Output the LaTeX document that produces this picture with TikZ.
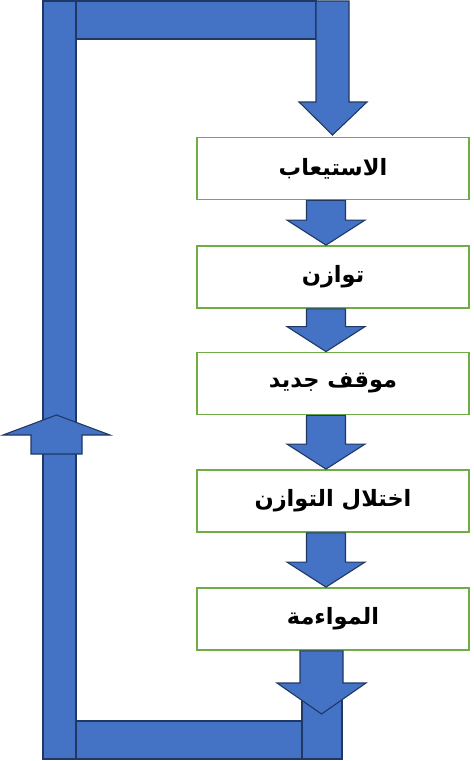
\documentclass[tikz,border=0pt]{standalone}
\usepackage{fontspec}
\newfontfamily\arabicfont[Script=Arabic]{DejaVu Sans}
\TeXXeTstate=1
\usetikzlibrary{calc}
\definecolor{blockblue}{HTML}{4472C4}
\definecolor{blockline}{HTML}{1F3864}
\definecolor{boxgreen}{HTML}{70AD47}
\tikzset{
  flow/.style={fill=blockblue, draw=blockline, line width=1.1pt, line join=miter},
  stage/.style={draw=boxgreen, line width=1.8pt, fill=white, minimum width=272,
    minimum height=62, inner sep=0pt, font=\arabicfont\bfseries\fontsize{22.5}{27}\selectfont}
}
\begin{document}
\begin{tikzpicture}[x=1pt,y=-1pt]
  \useasboundingbox (0,0) rectangle (474,761);

  % feedback loop
  \draw[flow] (43,1) rectangle (76,759);
  \draw[flow] (76,1) rectangle (316,39);
  \draw[flow] (316,1) -- (349,1) -- (349,102) -- (367,102) -- (332.5,135)
    -- (299,102) -- (316,102) -- cycle;
  \draw[flow] (76,721) rectangle (302,759);
  \draw[flow] (302,690) rectangle (342,759);

  % stages
  \node[stage] (assim) at (333,168.5) {\beginR الاستيعاب\endR};
  \node[stage] (equil) at (333,277) {\beginR توازن\endR};
  \node[stage] (newpos) at (333,383.5) {\beginR موقف جديد\endR};
  \node[stage] (diseq) at (333,501) {\beginR اختلال التوازن\endR};
  \node[stage] (accom) at (333,619) {\beginR المواءمة\endR};

  \coordinate (ax) at (326,0);
  \coordinate (loopin) at (321.5,714);

  \foreach \a/\b in {assim/equil,equil/newpos,newpos/diseq,diseq/accom}
  {
    \draw[flow] let \p1=(\a.south -| ax), \p2=(\b.north -| ax) in
      (\x1-19.5pt,\y1) -- (\x1+19.5pt,\y1) -- (\x1+19.5pt,\y2+25pt)
      -- (\x1+39pt,\y2+25pt) -- (\x1,\y2) -- (\x1-39pt,\y2+25pt)
      -- (\x1-19.5pt,\y2+25pt) -- cycle;
  }
  \draw[flow] let \p1=(accom.south -| loopin), \p2=(loopin) in
    (\x1-21.5pt,\y1) -- (\x1+21.5pt,\y1) -- (\x1+21.5pt,\y2+31pt)
    -- (\x1+44.5pt,\y2+31pt) -- (\x2,\y2) -- (\x1-44.5pt,\y2+31pt)
    -- (\x1-21.5pt,\y2+31pt) -- cycle;

  % upward arrow on the return line
  \draw[flow] (31,454) -- (82,454) -- (82,435) -- (110,435) -- (56.5,415)
    -- (3,435) -- (31,435) -- cycle;
\end{tikzpicture}
\end{document}
